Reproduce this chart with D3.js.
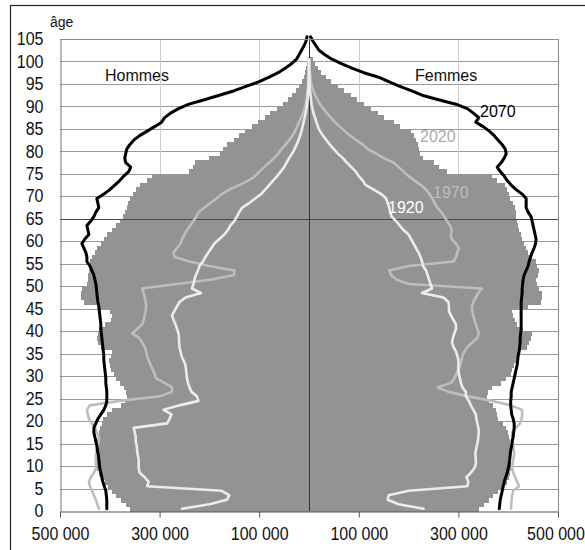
<!DOCTYPE html>
<html>
<head>
<meta charset="utf-8">
<script src="https://cdn.jsdelivr.net/npm/d3@7/dist/d3.min.js"></script>
<style>
  html, body { margin: 0; padding: 0; background: #fff; }
  svg { display: block; font-family: "Liberation Sans", Arial, sans-serif; }
</style>
</head>
<body>
<svg id="chart" width="585" height="550"></svg>
<script>
// Population par âge (en milliers), index = âge
const bars2020Hommes = [360,368,378,388,396,404,410,418,422,425,428,428,427,426,425,426,424,422,420,416,414,405,395,378,370,366,368,372,380,388,392,398,400,402,398,395,418,424,426,424,422,410,398,395,400,420,452,458,458,455,446,444,444,442,440,440,436,430,425,418,412,405,396,388,380,374,370,366,364,360,354,348,340,325,315,240,232,228,200,178,172,165,150,140,128,115,102,88,78,65,52,42,34,27,20,15,11,8,6,4,3];
const bars2020Femmes = [341,352,362,370,380,390,398,402,404,406,406,406,405,405,404,404,402,400,396,390,380,378,376,370,362,358,360,368,385,395,405,408,412,415,418,420,438,442,446,448,430,418,414,410,408,440,466,468,468,462,458,456,460,462,458,455,448,440,436,432,428,426,422,420,418,416,416,414,410,404,402,398,394,378,368,278,262,252,228,222,220,218,214,210,205,182,170,150,138,125,110,96,84,70,58,45,35,25,18,12,8];

const line2070Hommes = [406,406,406,407,408,411,414,416,418,420,421,422,423,425,426,428,430,432,432,428,424,418,412,408,406,406,406,407,408,408,409,410,411,412,412,413,414,415,416,417,418,418,419,420,421,422,424,425,426,427,428,430,432,436,440,446,446,448,452,456,450,442,444,446,438,432,428,422,424,426,412,400,390,380,372,362,358,368,370,368,366,360,352,340,325,310,296,290,278,262,241,210,180,150,125,100,80,62,48,35,25,20,15,10,6,4];
const line2070Femmes = [382,383,384,386,388,390,392,395,398,400,402,403,404,405,407,408,410,411,412,412,410,407,406,405,405,406,406,408,410,412,414,416,418,419,420,422,423,424,424,425,426,426,426,426,426,426,426,427,428,428,429,430,432,436,440,442,445,448,452,455,456,454,452,450,448,446,440,436,436,436,428,416,406,398,392,384,378,386,392,396,394,388,380,372,362,350,335,341,330,318,295,260,227,205,181,160,140,110,86,65,46,32,20,14,8,3];

const line1920Hommes = [255,200,165,160,175,325,322,330,340,342,342,342,344,345,346,348,348,350,352,285,280,276,292,260,222,225,236,240,243,245,246,247,248,252,256,258,260,261,261,262,265,268,272,275,270,265,260,248,217,235,232,230,227,223,220,213,208,202,196,190,180,170,163,158,150,145,140,134,120,108,96,88,80,72,64,57,50,45,40,34,29,25,21,18,15,13,11,9,7,5,4,3,2,1.5,1,1,0.5,0.5,0.3,0.2,0];
const line1920Femmes = [230,180,158,160,200,318,320,316,325,332,335,335,334,335,337,339,340,341,340,338,336,335,330,325,321,315,315,308,305,303,301,300,300,300,298,295,290,287,289,292,295,295,290,285,281,281,280,270,227,247,244,241,238,235,229,227,224,220,215,210,205,200,190,182,175,166,163,161,158,155,145,130,114,108,100,94,85,76,68,58,50,42,35,28,22,18,15,12,9,7,5,4,3,2,1.5,1,0.7,0.5,0.3,0.2,0];

const line1970Hommes = [422,425,428,432,436,440,442,438,432,428,428,428,428,426,424,422,422,426,430,436,442,444,446,440,380,300,275,275,290,307,310,314,318,322,325,327,330,335,341,355,345,335,332,330,328,327,328,330,332,335,265,195,150,150,200,240,270,272,265,258,255,250,245,238,232,226,222,210,198,186,175,160,140,122,108,100,90,80,70,62,55,47,40,33,28,24,20,16,12,9,7,5,4,3,2,1.5,1,0.6,0.4,0.2,0];
const line1970Femmes = [406,406,407,408,410,422,418,414,410,408,409,410,412,411,410,409,408,408,415,424,427,428,428,405,367,320,280,258,285,292,296,300,304,306,308,312,318,328,338,341,338,335,332,330,328,327,330,335,340,347,200,175,165,161,200,290,295,298,301,295,286,285,287,283,277,272,265,258,252,248,242,235,225,212,200,190,180,170,150,135,118,108,95,83,72,62,52,44,36,29,22,17,12,9,6,4,3,2,1,0.5,0];

const ageTicks = d3.range(0, 106, 5);
const xTickValues = [-500, -300, -100, 100, 300, 500];
const xTickLabels = ["500 000", "300 000", "100 000", "100 000", "300 000", "500 000"];
const sideLabels = ["Hommes", "Femmes"];
const seriesLabels = ["2070", "2020", "1970", "1920"];

const svg = d3.select("#chart");

const x = d3.scaleLinear().domain([-500, 500]).range([60, 558]);
const y = d3.scaleLinear().domain([0, 105]).range([511, 39]);
const x0 = x(0);

// outer frame
svg.append("rect")
  .attr("x", 10.5).attr("y", 5.5).attr("width", 700).attr("height", 700)
  .attr("fill", "none").attr("stroke", "#222").attr("stroke-width", 1.2);

// grid
const grid = svg.append("g");
grid.selectAll("line.h").data(ageTicks.filter(a => a > 0)).join("line")
  .attr("x1", x(-500)).attr("x2", x(500))
  .attr("y1", d => Math.round(y(d)) + 0.5).attr("y2", d => Math.round(y(d)) + 0.5)
  .attr("stroke", "#9a9a9a").attr("stroke-width", 1);
grid.selectAll("line.v").data(xTickValues.filter(v => Math.abs(v) < 500)).join("line")
  .attr("x1", d => Math.round(x(d)) + 0.5).attr("x2", d => Math.round(x(d)) + 0.5)
  .attr("y1", y(105)).attr("y2", y(0))
  .attr("stroke", "#cfcfcf").attr("stroke-width", 1);
// right border
grid.append("line")
  .attr("x1", Math.round(x(500)) + 0.5).attr("x2", Math.round(x(500)) + 0.5)
  .attr("y1", y(105)).attr("y2", y(0))
  .attr("stroke", "#8a8a8a");

// bars 2020
const barColor = "#939393";
const bars = svg.append("g").attr("shape-rendering", "crispEdges");
bars.selectAll("rect.m").data(bars2020Hommes).join("rect")
  .attr("x", d => x(-d)).attr("width", d => x0 - x(-d))
  .attr("y", (d, i) => y(i + 1)).attr("height", (d, i) => y(i) - y(i + 1) + 0.6)
  .attr("fill", barColor);
bars.selectAll("rect.f").data(bars2020Femmes).join("rect")
  .attr("x", x0).attr("width", d => x(d) - x0)
  .attr("y", (d, i) => y(i + 1)).attr("height", (d, i) => y(i) - y(i + 1) + 0.6)
  .attr("fill", barColor);

// 65-year line and centre line
svg.append("line")
  .attr("x1", x(-500)).attr("x2", x(500))
  .attr("y1", Math.round(y(65)) + 0.5).attr("y2", Math.round(y(65)) + 0.5)
  .attr("stroke", "#4a4a4a").attr("stroke-width", 1.2);
svg.append("line")
  .attr("x1", Math.round(x0) + 0.5).attr("x2", Math.round(x0) + 0.5)
  .attr("y1", y(105)).attr("y2", y(0))
  .attr("stroke", "#333").attr("stroke-width", 1);

// lines
function drawLine(values, sign, color, width) {
  const gen = d3.line()
    .x(d => x(sign * d))
    .y((d, i) => y(i + 0.5));
  svg.append("path")
    .datum(values)
    .attr("d", gen)
    .attr("fill", "none")
    .attr("stroke", color)
    .attr("stroke-width", width)
    .attr("stroke-linejoin", "round")
    .attr("stroke-linecap", "round");
}
drawLine(line1970Hommes, -1, "#bdbdbd", 2.6);
drawLine(line1970Femmes, 1, "#bdbdbd", 2.6);
drawLine(line1920Hommes, -1, "#ececec", 2.6);
drawLine(line1920Femmes, 1, "#ececec", 2.6);
drawLine(line2070Hommes, -1, "#000", 3);
drawLine(line2070Femmes, 1, "#000", 3);

// axes
const xAxis = d3.axisBottom(x)
  .tickValues(xTickValues)
  .tickFormat((d, i) => xTickLabels[i])
  .tickSize(6).tickPadding(13);
const gx = svg.append("g").attr("transform", `translate(0,${Math.round(y(0)) + 0.5})`).call(xAxis);
gx.select(".domain").attr("stroke", "#555");
gx.selectAll(".tick line").attr("stroke", "#555");
gx.selectAll(".tick text")
  .attr("font-size", 16).attr("fill", "#111")
  .attr("font-family", "'Liberation Sans', Arial, sans-serif")
  .attr("transform", "scale(1,1.1)").attr("dy", "0.45em")
  .attr("dx", (d, i) => i === xTickValues.length - 1 ? -2.5 : 0);

const yAxis = d3.axisLeft(y).tickValues(ageTicks).tickSize(0).tickPadding(17);
const gy = svg.append("g").attr("transform", `translate(${Math.round(x(-500)) + 0.5},0)`).call(yAxis);
gy.select(".domain").attr("stroke", "#777");
gy.selectAll(".tick text")
  .attr("font-size", 16).attr("fill", "#111")
  .attr("font-family", "'Liberation Sans', Arial, sans-serif")
  .attr("transform", "scale(1,1.1)");

// top border
svg.append("line")
  .attr("x1", x(-500)).attr("x2", x(500))
  .attr("y1", Math.round(y(105)) + 0.5).attr("y2", Math.round(y(105)) + 0.5)
  .attr("stroke", "#8a8a8a");

// labels
function label(t, lx, ly, size, color) {
  svg.append("text").attr("x", lx).attr("y", ly)
    .attr("font-size", size).attr("fill", color).text(t);
}
label("âge", 50, 27, 14, "#111");
label(sideLabels[0], 105, 81, 16, "#111");
label(sideLabels[1], 415, 81, 16, "#111");
label(seriesLabels[0], 480, 117, 16, "#000");
label(seriesLabels[1], 420, 142, 16, "#a9a9a9");
label(seriesLabels[2], 433, 198, 16, "#bdbdbd");
label(seriesLabels[3], 388, 213, 16, "#ffffff");
</script>
</body>
</html>
